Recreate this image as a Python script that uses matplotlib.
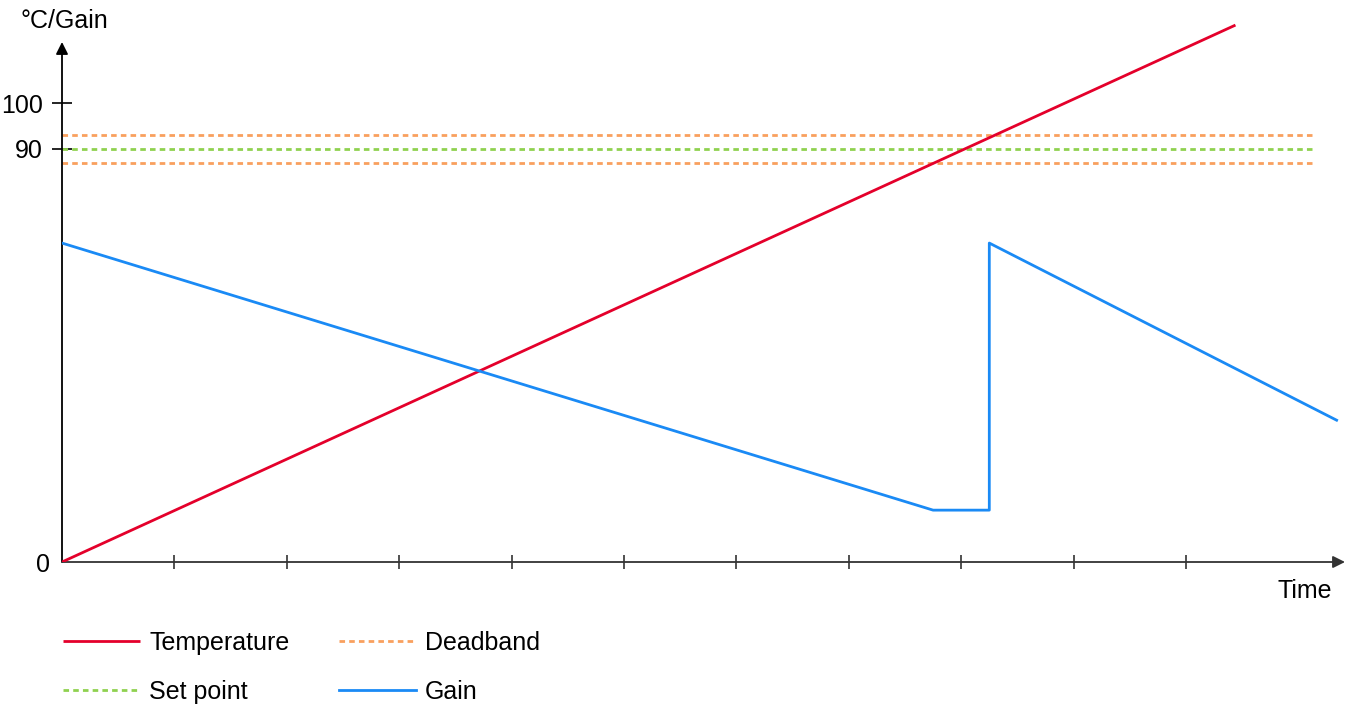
import matplotlib
matplotlib.use('agg')
import matplotlib.pyplot as plt

# data
temp_x = [0, 10.44]
temp_y = [0, 117.0]
gain_x = [0, 7.75, 8.25, 8.25, 11.34]
gain_y = [69.5, 11.3, 11.3, 69.5, 30.9]
set_point = 90
deadband = [93, 87]
line_end = 11.16
x_ticks = list(range(1, 11))
y_ticks = [90, 100]

W, H = 1353, 704
FS = 18
plt.rcParams['font.family'] = ['Liberation Sans', 'DejaVu Sans']
fig = plt.figure(figsize=(W / 100, H / 100), dpi=100)

# origin sits at pixel (62, 562); 112.4 px per time step, 4.589 px per unit
ax = fig.add_axes([62 / W, (H - 562) / H, (W - 62) / W, 562 / H])
ax.set_xlim(0, (W - 62) / 112.4)
ax.set_ylim(0, 562 / 4.589)
for s in ax.spines.values():
    s.set_visible(False)

red = '#e4002b'
blue = '#1a8af5'
orange = '#f9a05e'
green = '#8fd14f'

ax.plot(temp_x, temp_y, color=red, lw=2.0, solid_capstyle='butt', label='Temperature', zorder=4)
ax.plot([0, line_end], [set_point] * 2, color=green, lw=2.0, ls=(0, (2, 1.5)), label='Set point', zorder=3)
ax.plot([0, line_end], [deadband[0]] * 2, color=orange, lw=2.0, ls=(0, (2, 1.5)), label='Deadband', zorder=3)
ax.plot([0, line_end], [deadband[1]] * 2, color=orange, lw=2.0, ls=(0, (2, 1.5)), zorder=3)
ax.plot(gain_x, gain_y, color=blue, lw=2.0, label='Gain', zorder=4)

# axes with arrow heads
ax.annotate('', xy=(0, 520 / 4.589), xytext=(0, 0),
            arrowprops=dict(arrowstyle='-|>', color='black', lw=1.3, mutation_scale=18,
                            shrinkA=0, shrinkB=0), annotation_clip=False)
ax.annotate('', xy=((1345 - 62) / 112.4, 0), xytext=(0, 0),
            arrowprops=dict(arrowstyle='-|>', color='#333333', lw=1.3, mutation_scale=18,
                            shrinkA=0, shrinkB=0), annotation_clip=False)

ax.set_xticks(x_ticks)
ax.set_xticklabels([])
ax.tick_params(axis='x', direction='inout', length=9.4, width=1.2, color='#333333')
ax.set_yticks(y_ticks)
ax.set_yticklabels([str(v) for v in y_ticks], fontsize=FS)
ax.tick_params(axis='y', direction='inout', length=13.7, width=1.2, color='black', pad=7)
ax.text(-0.11, 0, '0', fontsize=FS, ha='right', va='center_baseline')

fig.text(21 / W, 1 - 21 / H, '°C/Gain', fontsize=FS, ha='left', va='center')
fig.text(1332 / W, 1 - 591 / H, 'Time', fontsize=FS, ha='right', va='center')

handles, labels = ax.get_legend_handles_labels()
fig.legend(handles, labels, ncol=2,
           loc='upper left', bbox_to_anchor=(63 / W, 1 - 631 / H), frameon=False,
           fontsize=FS, handlelength=3.08, handletextpad=0.36, columnspacing=2.0,
           labelspacing=1.0, borderpad=0, borderaxespad=0)

fig.savefig('out.png', dpi=100)
